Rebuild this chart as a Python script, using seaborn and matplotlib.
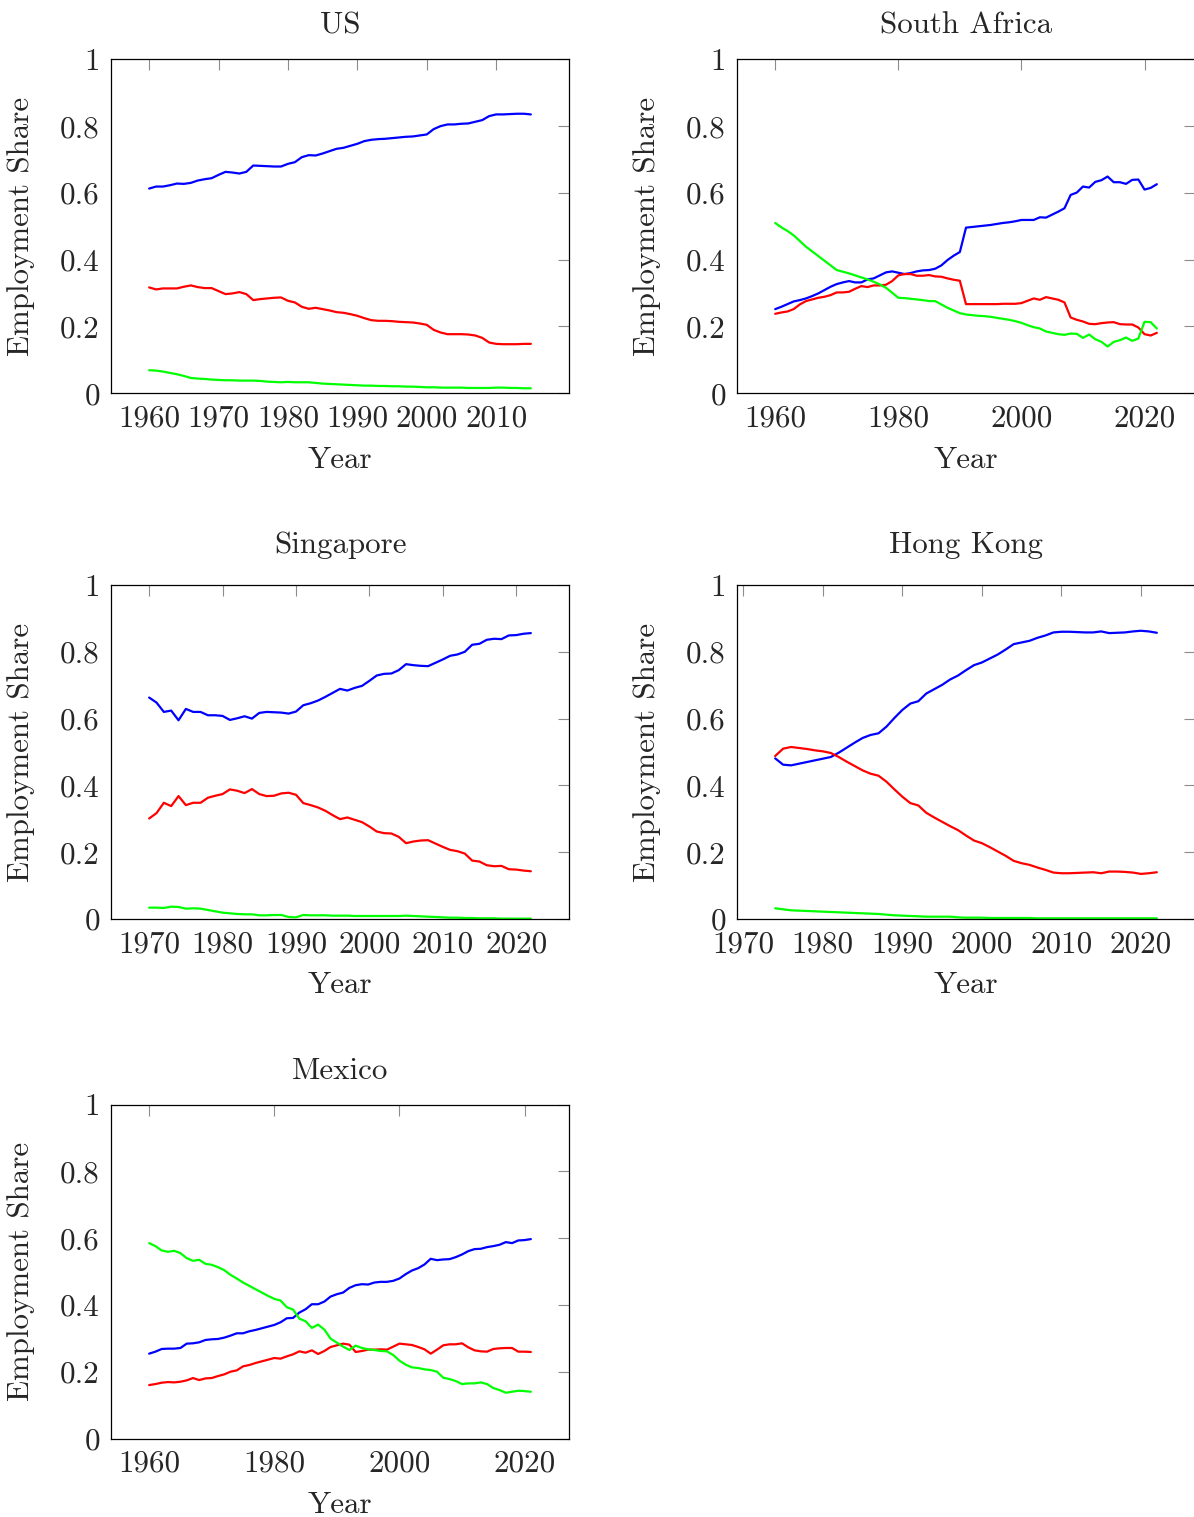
import numpy as np
import pandas as pd
import matplotlib
matplotlib.use("Agg")
import matplotlib.pyplot as plt
import seaborn as sns

# ---- employment shares by sector ----
us_years = list(range(1960, 2016))
us_services = [0.613, 0.619, 0.619, 0.623, 0.628, 0.627, 0.630, 0.637, 0.641, 0.644,
               0.654, 0.663, 0.661, 0.658, 0.663, 0.682, 0.681, 0.680, 0.679, 0.679,
               0.687, 0.692, 0.707, 0.713, 0.712, 0.718, 0.725, 0.732, 0.735, 0.741,
               0.747, 0.755, 0.759, 0.761, 0.762, 0.764, 0.766, 0.768, 0.769, 0.772,
               0.775, 0.791, 0.800, 0.805, 0.805, 0.807, 0.808, 0.813, 0.818, 0.830,
               0.835, 0.835, 0.836, 0.837, 0.837, 0.835]
us_industry = [0.317, 0.311, 0.314, 0.314, 0.314, 0.319, 0.323, 0.318, 0.315, 0.315,
               0.306, 0.297, 0.299, 0.303, 0.297, 0.279, 0.282, 0.284, 0.286, 0.287,
               0.277, 0.272, 0.259, 0.253, 0.256, 0.252, 0.248, 0.243, 0.241, 0.237,
               0.232, 0.225, 0.219, 0.217, 0.217, 0.216, 0.214, 0.213, 0.212, 0.209,
               0.205, 0.190, 0.182, 0.177, 0.177, 0.177, 0.176, 0.173, 0.166, 0.152,
               0.148, 0.147, 0.147, 0.147, 0.148, 0.148]
us_agriculture = [0.069, 0.068, 0.065, 0.061, 0.057, 0.052, 0.046, 0.044, 0.043, 0.041,
                  0.040, 0.039, 0.039, 0.038, 0.038, 0.038, 0.037, 0.035, 0.034, 0.033,
                  0.034, 0.033, 0.033, 0.033, 0.031, 0.029, 0.028, 0.027, 0.026, 0.025,
                  0.024, 0.023, 0.023, 0.022, 0.022, 0.021, 0.021, 0.020, 0.020, 0.019,
                  0.018, 0.018, 0.017, 0.017, 0.017, 0.017, 0.016, 0.016, 0.016, 0.016,
                  0.017, 0.017, 0.016, 0.016, 0.015, 0.015]

sa_years = list(range(1960, 2023))
sa_services = [0.252, 0.259, 0.267, 0.275, 0.279, 0.284, 0.291, 0.299, 0.309, 0.319,
               0.327, 0.332, 0.336, 0.332, 0.332, 0.341, 0.344, 0.353, 0.362, 0.365,
               0.361, 0.357, 0.360, 0.365, 0.368, 0.369, 0.373, 0.383, 0.399, 0.412,
               0.423, 0.496, 0.498, 0.500, 0.502, 0.504, 0.507, 0.510, 0.512, 0.515,
               0.519, 0.519, 0.519, 0.527, 0.526, 0.535, 0.544, 0.554, 0.594, 0.601,
               0.619, 0.616, 0.633, 0.638, 0.649, 0.632, 0.632, 0.627, 0.639, 0.640,
               0.610, 0.615, 0.626]
sa_industry = [0.238, 0.242, 0.245, 0.252, 0.266, 0.276, 0.281, 0.286, 0.289, 0.294,
               0.302, 0.302, 0.304, 0.313, 0.321, 0.318, 0.323, 0.323, 0.325, 0.336,
               0.353, 0.357, 0.357, 0.352, 0.352, 0.354, 0.350, 0.349, 0.344, 0.340,
               0.337, 0.267, 0.267, 0.267, 0.267, 0.267, 0.267, 0.268, 0.268, 0.268,
               0.270, 0.277, 0.284, 0.280, 0.288, 0.284, 0.280, 0.272, 0.227, 0.220,
               0.215, 0.208, 0.207, 0.210, 0.212, 0.213, 0.207, 0.206, 0.206, 0.197,
               0.177, 0.173, 0.181]
sa_agriculture = [0.510, 0.497, 0.486, 0.473, 0.456, 0.439, 0.425, 0.411, 0.397, 0.383,
                  0.369, 0.364, 0.359, 0.353, 0.347, 0.341, 0.334, 0.326, 0.316, 0.301,
                  0.286, 0.285, 0.283, 0.281, 0.279, 0.276, 0.276, 0.266, 0.256, 0.248,
                  0.240, 0.236, 0.234, 0.232, 0.231, 0.229, 0.226, 0.223, 0.220, 0.216,
                  0.211, 0.204, 0.198, 0.194, 0.185, 0.181, 0.177, 0.175, 0.179, 0.178,
                  0.166, 0.176, 0.162, 0.154, 0.140, 0.154, 0.159, 0.167, 0.157, 0.164,
                  0.214, 0.213, 0.194]

sg_years = list(range(1970, 2023))
sg_services = [0.663, 0.648, 0.620, 0.624, 0.595, 0.629, 0.620, 0.620, 0.610, 0.610,
               0.608, 0.596, 0.601, 0.607, 0.600, 0.617, 0.620, 0.619, 0.618, 0.615,
               0.621, 0.640, 0.646, 0.654, 0.665, 0.677, 0.689, 0.684, 0.692, 0.698,
               0.713, 0.729, 0.734, 0.735, 0.745, 0.763, 0.760, 0.758, 0.757, 0.767,
               0.777, 0.788, 0.792, 0.800, 0.821, 0.824, 0.836, 0.839, 0.838, 0.849,
               0.850, 0.854, 0.856]
sg_industry = [0.301, 0.317, 0.348, 0.338, 0.368, 0.341, 0.348, 0.348, 0.363, 0.369,
               0.374, 0.388, 0.384, 0.377, 0.389, 0.374, 0.368, 0.369, 0.376, 0.378,
               0.372, 0.347, 0.341, 0.334, 0.324, 0.311, 0.299, 0.304, 0.297, 0.290,
               0.277, 0.262, 0.257, 0.256, 0.246, 0.227, 0.232, 0.235, 0.236, 0.226,
               0.216, 0.207, 0.203, 0.196, 0.175, 0.172, 0.161, 0.158, 0.159, 0.149,
               0.148, 0.145, 0.143]
sg_agriculture = [0.034, 0.034, 0.033, 0.037, 0.036, 0.031, 0.032, 0.031, 0.027, 0.023,
                  0.019, 0.017, 0.015, 0.014, 0.014, 0.011, 0.011, 0.012, 0.012, 0.006,
                  0.005, 0.012, 0.011, 0.011, 0.011, 0.010, 0.010, 0.010, 0.009, 0.009,
                  0.009, 0.009, 0.009, 0.009, 0.009, 0.010, 0.009, 0.008, 0.007, 0.006,
                  0.005, 0.004, 0.004, 0.003, 0.003, 0.002, 0.002, 0.002, 0.001, 0.001,
                  0.001, 0.001, 0.001]

hk_years = list(range(1974, 2023))
hk_services = [0.481, 0.462, 0.460, 0.465, 0.470, 0.475,
               0.480, 0.485, 0.498, 0.513, 0.528, 0.542, 0.551, 0.556, 0.576, 0.602,
               0.626, 0.645, 0.652, 0.675, 0.688, 0.701, 0.717, 0.729, 0.745, 0.760,
               0.768, 0.780, 0.792, 0.807, 0.823, 0.828, 0.833, 0.842, 0.849, 0.858,
               0.860, 0.860, 0.859, 0.858, 0.858, 0.861, 0.856, 0.857, 0.858, 0.861,
               0.863, 0.861, 0.857]
hk_industry = [0.488, 0.510, 0.515, 0.512, 0.509, 0.505,
               0.502, 0.497, 0.485, 0.471, 0.458, 0.445, 0.435, 0.429, 0.411, 0.388,
               0.366, 0.347, 0.340, 0.318, 0.304, 0.291, 0.278, 0.266, 0.250, 0.235,
               0.227, 0.215, 0.202, 0.189, 0.174, 0.167, 0.162, 0.154, 0.147, 0.139,
               0.137, 0.137, 0.138, 0.139, 0.140, 0.137, 0.142, 0.142, 0.141, 0.139,
               0.135, 0.137, 0.140]
hk_agriculture = [0.032, 0.029, 0.026, 0.025, 0.024, 0.023,
                  0.022, 0.021, 0.020, 0.019, 0.018, 0.017, 0.016, 0.015, 0.013, 0.011,
                  0.010, 0.009, 0.008, 0.007, 0.007, 0.007, 0.007, 0.005, 0.004, 0.004,
                  0.004, 0.003, 0.003, 0.003, 0.003, 0.003, 0.003, 0.002, 0.002, 0.002,
                  0.002, 0.002, 0.002, 0.002, 0.002, 0.002, 0.002, 0.002, 0.002, 0.002,
                  0.002, 0.002, 0.002]

mx_years = list(range(1960, 2022))
mx_services = [0.254, 0.260, 0.268, 0.269, 0.269, 0.271, 0.284, 0.285, 0.288, 0.295,
               0.297, 0.298, 0.302, 0.308, 0.315, 0.315, 0.321, 0.325, 0.330, 0.335,
               0.340, 0.348, 0.360, 0.361, 0.377, 0.387, 0.402, 0.402, 0.410, 0.425,
               0.432, 0.437, 0.451, 0.459, 0.462, 0.461, 0.467, 0.469, 0.469, 0.472,
               0.479, 0.492, 0.503, 0.510, 0.521, 0.538, 0.534, 0.536, 0.537, 0.543,
               0.551, 0.561, 0.567, 0.568, 0.573, 0.576, 0.580, 0.588, 0.585, 0.593,
               0.594, 0.597]
mx_industry = [0.160, 0.163, 0.167, 0.169, 0.168, 0.170, 0.174, 0.181, 0.175, 0.180,
               0.181, 0.187, 0.192, 0.200, 0.204, 0.216, 0.220, 0.226, 0.231, 0.236,
               0.241, 0.239, 0.246, 0.252, 0.261, 0.257, 0.264, 0.253, 0.262, 0.274,
               0.279, 0.284, 0.281, 0.259, 0.262, 0.266, 0.266, 0.267, 0.266, 0.275,
               0.284, 0.282, 0.280, 0.274, 0.267, 0.254, 0.266, 0.279, 0.282, 0.282,
               0.285, 0.273, 0.264, 0.261, 0.260, 0.268, 0.270, 0.271, 0.271, 0.260,
               0.260, 0.259]
mx_agriculture = [0.585, 0.576, 0.563, 0.559, 0.562, 0.555, 0.540, 0.532, 0.535, 0.523,
                  0.520, 0.513, 0.504, 0.490, 0.479, 0.467, 0.457, 0.447, 0.437, 0.427,
                  0.418, 0.413, 0.393, 0.386, 0.359, 0.351, 0.331, 0.341, 0.326, 0.299,
                  0.287, 0.275, 0.265, 0.278, 0.271, 0.267, 0.265, 0.262, 0.261, 0.250,
                  0.233, 0.221, 0.213, 0.211, 0.207, 0.205, 0.200, 0.182, 0.178, 0.172,
                  0.163, 0.165, 0.165, 0.168, 0.163, 0.151, 0.145, 0.137, 0.140, 0.143,
                  0.142, 0.140]

y_ticks = [0, 0.2, 0.4, 0.6, 0.8, 1]
y_tick_labels = ["0", "0.2", "0.4", "0.6", "0.8", "1"]

panels = [
    ("US", us_years, us_services, us_industry, us_agriculture,
     [1960, 1970, 1980, 1990, 2000, 2010]),
    ("South Africa", sa_years, sa_services, sa_industry, sa_agriculture,
     [1960, 1980, 2000, 2020]),
    ("Singapore", sg_years, sg_services, sg_industry, sg_agriculture,
     [1970, 1980, 1990, 2000, 2010, 2020]),
    ("Hong Kong", hk_years, hk_services, hk_industry, hk_agriculture,
     [1970, 1980, 1990, 2000, 2010, 2020]),
    ("Mexico", mx_years, mx_services, mx_industry, mx_agriculture,
     [1960, 1980, 2000, 2020]),
]

sector_colors = {"Services": "#0000ff", "Industry": "#ff0000", "Agriculture": "#00ff00"}

# ---- style ----
sns.set_style("white")
plt.rcParams["font.family"] = ["cmr10", "DejaVu Serif"]
plt.rcParams["mathtext.fontset"] = "cm"
plt.rcParams["axes.unicode_minus"] = False
plt.rcParams["axes.formatter.use_mathtext"] = True

FS = 22.3
W, H = 1194, 1517
fig = plt.figure(figsize=(W / 100, H / 100), dpi=100)

ax_w, ax_h = 458, 334
lefts = [111, 737]
tops = [59.3, 585, 1104.5]


def make_axes(col, row):
    x0 = lefts[col] / W
    y0 = (H - tops[row] - ax_h) / H
    return fig.add_axes([x0, y0, ax_w / W, ax_h / H])


for i, (name, years, serv, ind, agr, xticks) in enumerate(panels):
    ax = make_axes(i % 2, i // 2)
    df = pd.DataFrame({"Year": years, "Services": serv,
                       "Industry": ind, "Agriculture": agr})
    long = df.melt(id_vars="Year", var_name="Sector", value_name="Share")
    sns.lineplot(data=long, x="Year", y="Share", hue="Sector",
                 hue_order=["Services", "Industry", "Agriculture"],
                 palette=sector_colors, linewidth=1.6, legend=False, ax=ax)

    span = years[-1] - years[0]
    ax.set_xlim(years[0] - 0.1 * span, years[-1] + 0.1 * span)
    ax.set_ylim(0, 1)
    ax.set_xticks(xticks)
    ax.set_xticklabels([str(t) for t in xticks])
    ax.set_yticks(y_ticks)
    ax.set_yticklabels(y_tick_labels)

    ax.tick_params(axis="both", which="major", direction="in", length=7.7,
                   width=0.8, color="0.55", top=True, right=True,
                   labelsize=FS, pad=8)
    for sp in ax.spines.values():
        sp.set_visible(True)
        sp.set_linewidth(0.9)
        sp.set_color("black")

    # titles sit on their lowest ink, so descending letters lift the baseline
    has_descender = any(c in "gjpqy" for c in name)
    ax.set_title(name, fontsize=FS, pad=18.7 + (4.5 if has_descender else 0))
    ax.set_xlabel("Year", fontsize=FS)
    ax.set_ylabel("Employment Share", fontsize=FS)
    ax.xaxis.set_label_coords(0.5, -0.157)
    ax.yaxis.set_label_coords(-0.165, 0.5)

fig.savefig("out.png", dpi=100)
